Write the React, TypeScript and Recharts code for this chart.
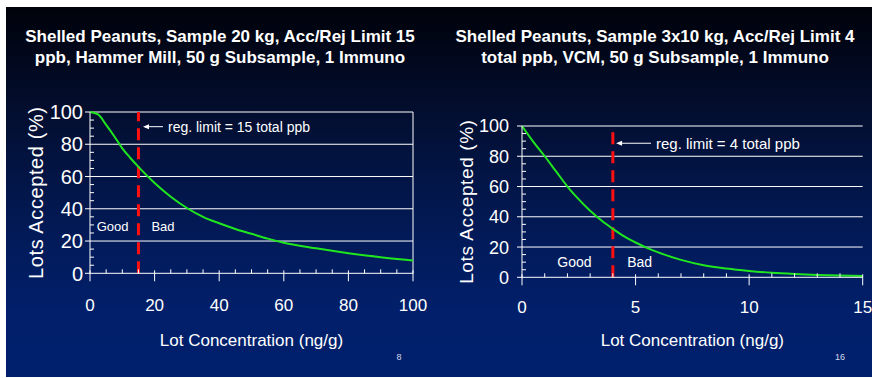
import React from 'react';
import { LineChart, Line, XAxis, YAxis, ReferenceLine, ReferenceDot } from 'recharts';

// Operating characteristic curve, 20 kg sample, 15 ppb limit
const leftConc = [0, 2.5, 5, 7.5, 10, 12.5, 15, 20, 25, 30, 35, 40, 45, 50, 55, 60, 70, 80, 90, 100];
const leftAccepted = [100, 98.5, 92, 85, 77.5, 71.5, 66, 56, 47.5, 40.5, 35, 31, 27.5, 24.5, 21.5, 19, 15.5, 12.5, 10, 8];
const leftXTicks = [0, 5, 10, 15, 20, 25, 30, 35, 40, 45, 50, 55, 60, 65, 70, 75, 80, 85, 90, 95, 100];
const leftLimit = 15;

// Operating characteristic curve, 3x10 kg sample, 4 ppb limit
const rightConc = [0, 0.5, 1, 1.5, 2, 2.5, 3, 3.5, 4, 4.5, 5, 5.5, 6, 7, 8, 9, 10, 11, 12, 13, 14, 15];
const rightAccepted = [100, 89.5, 80, 70, 60, 51.5, 44, 37.5, 32, 27, 23, 19.5, 16.5, 11.5, 8, 5.8, 4.2, 3, 2.2, 1.6, 1.2, 0.9];
const rightXTicks = [0, 1, 2, 3, 4, 5, 6, 7, 8, 9, 10, 11, 12, 13, 14, 15];
const rightLimit = 4;

const yTicks = [0, 5, 10, 15, 20, 25, 30, 35, 40, 45, 50, 55, 60, 65, 70, 75, 80, 85, 90, 95, 100];
const gridValues = [20, 40, 60, 80, 100];

const leftTitle = ['Shelled Peanuts, Sample 20 kg, Acc/Rej Limit 15', 'ppb, Hammer Mill, 50 g Subsample, 1 Immuno'];
const rightTitle = ['Shelled Peanuts, Sample 3x10 kg, Acc/Rej Limit 4', 'total ppb, VCM, 50 g Subsample, 1 Immuno'];

const FONT = "'Liberation Sans', Arial, Helvetica, sans-serif";
const WHITE = '#ffffff';
const GREEN = '#1fe61f';
const RED = '#ff1010';

const toRows = (xs: number[], ys: number[]) => xs.map((x, i) => ({ x, y: ys[i] }));

const YTick = (p: any) => {
  const { x, y, payload, labelGap, fontSize } = p;
  const v = payload.value;
  if (v % 20 === 0) {
    return (
      <g>
        <line x1={x - 5} x2={x} y1={y} y2={y} stroke={WHITE} strokeWidth={1} />
        <text x={x - labelGap} y={y} dy="0.36em" textAnchor="end" fill={WHITE} fontSize={fontSize}>
          {v}
        </text>
      </g>
    );
  }
  return <line x1={x} x2={x + 4} y1={y} y2={y} stroke={WHITE} strokeWidth={1} />;
};

const XTick = (p: any) => {
  const { x, y, payload, majorStep, labelOffset, fontSize } = p;
  const v = payload.value;
  if (v % majorStep === 0) {
    return (
      <g>
        <line x1={x} x2={x} y1={y - 3} y2={y + 8} stroke={WHITE} strokeWidth={1} />
        <text x={x} y={y + labelOffset} textAnchor="middle" fill={WHITE} fontSize={fontSize}>
          {v}
        </text>
      </g>
    );
  }
  return <line x1={x} x2={x} y1={y - 4} y2={y} stroke={WHITE} strokeWidth={1} />;
};

const arrowNote = (text: string, fontSize: number) => (p: any) => {
  const { x1, y1, x2 } = p;
  const left = Math.min(x1, x2);
  const right = Math.max(x1, x2);
  return (
    <g>
      <line x1={left + 2} x2={right} y1={y1} y2={y1} stroke={WHITE} strokeWidth={1} />
      <path d={`M${left},${y1} L${left + 6},${y1 - 2.5} L${left + 6},${y1 + 2.5} Z`} fill={WHITE} />
      <text x={right + 5} y={y1} dy="0.36em" fill={WHITE} fontSize={fontSize}>
        {text}
      </text>
    </g>
  );
};

type PanelProps = {
  rows: { x: number; y: number }[];
  xMax: number;
  xTicks: number[];
  majorStep: number;
  limit: number;
  note: string;
  noteFrom: number;
  noteTo: number;
  noteY: number;
  noteSize: number;
  good: [number, number];
  bad: [number, number];
  tagSize: number;
  left: number;
  yAxisWidth: number;
  top: number;
  right: number;
  xAxisHeight: number;
  yLabelSize: number;
  yLabelGap: number;
  xLabelOffset: number;
  titleSize: number;
  titleDx: number;
  xTitleDy: number;
  rightBorder: boolean;
};

const Panel = (c: PanelProps) => (
  <div style={{ position: 'absolute', left: c.left, top: 0 }}>
    <LineChart
      width={436}
      height={378}
      data={c.rows}
      margin={{ top: c.top, right: c.right, left: 0, bottom: 0 }}
      style={{ fontFamily: FONT }}
    >
      <XAxis
        dataKey="x"
        type="number"
        domain={[0, c.xMax]}
        ticks={c.xTicks}
        interval={0}
        tickSize={0}
        tickMargin={0}
        height={c.xAxisHeight}
        axisLine={{ stroke: WHITE, strokeWidth: 1 }}
        tick={(p: any) => <XTick {...p} majorStep={c.majorStep} labelOffset={c.xLabelOffset} fontSize={17} />}
        label={{ value: 'Lot Concentration (ng/g)', position: 'center', dy: c.xTitleDy, fill: WHITE, fontSize: 17 }}
      />
      <YAxis
        type="number"
        domain={[0, 100]}
        ticks={yTicks}
        interval={0}
        tickSize={0}
        tickMargin={0}
        width={c.yAxisWidth}
        axisLine={{ stroke: WHITE, strokeWidth: 1 }}
        tick={(p: any) => <YTick {...p} labelGap={c.yLabelGap} fontSize={c.yLabelSize} />}
        label={{
          value: 'Lots Accepted (%)',
          angle: -90,
          position: 'center',
          dx: c.titleDx,
          fill: WHITE,
          fontSize: c.titleSize,
          style: { letterSpacing: '0.6px' },
        }}
      />
      {gridValues.map((v) => (
        <ReferenceLine key={v} y={v} stroke={WHITE} strokeWidth={1} />
      ))}
      {c.rightBorder && <ReferenceLine x={c.xMax} stroke={WHITE} strokeWidth={1} />}
      <ReferenceLine x={c.limit} stroke={RED} strokeWidth={3} strokeDasharray="12 7" />
      <ReferenceLine
        segment={[
          { x: c.noteFrom, y: c.noteY },
          { x: c.noteTo, y: c.noteY },
        ]}
        shape={arrowNote(c.note, c.noteSize)}
      />
      <ReferenceDot
        x={c.good[0]}
        y={c.good[1]}
        r={0}
        fill="none"
        stroke="none"
        label={{ value: 'Good', position: 'center', fill: WHITE, fontSize: c.tagSize }}
      />
      <ReferenceDot
        x={c.bad[0]}
        y={c.bad[1]}
        r={0}
        fill="none"
        stroke="none"
        label={{ value: 'Bad', position: 'center', fill: WHITE, fontSize: c.tagSize }}
      />
      <Line
        dataKey="y"
        type="monotone"
        stroke={GREEN}
        strokeWidth={2}
        dot={false}
        activeDot={false}
        isAnimationActive={false}
      />
    </LineChart>
  </div>
);

const Title = ({ lines, cx }: { lines: string[]; cx: number }) => (
  <div
    style={{
      position: 'absolute',
      left: cx - 220,
      width: 440,
      top: 26,
      textAlign: 'center',
      color: WHITE,
      fontFamily: FONT,
      fontWeight: 'bold',
      fontSize: 17,
      lineHeight: '21px',
      whiteSpace: 'nowrap',
    }}
  >
    {lines[0]}
    <br />
    {lines[1]}
  </div>
);

const PageNo = ({ text, cx }: { text: string; cx: number }) => (
  <div
    style={{
      position: 'absolute',
      left: cx - 20,
      width: 40,
      top: 352,
      textAlign: 'center',
      color: '#d4daec',
      fontFamily: FONT,
      fontSize: 9,
      lineHeight: '11px',
    }}
  >
    {text}
  </div>
);

export default function App() {
  return (
    <div style={{ position: 'absolute', left: 0, top: 0, width: 872, height: 378, background: '#ffffff', overflow: 'hidden' }}>
      <div
        style={{
          position: 'absolute',
          left: 6,
          top: 7,
          width: 866,
          height: 370,
          background: 'linear-gradient(to bottom, #00020a 0%, #020a22 18%, #03123c 38%, #021a58 62%, #011f6a 82%, #001f6c 100%)',
        }}
      />
      <Title lines={leftTitle} cx={220} />
      <Title lines={rightTitle} cx={655} />
      <Panel
        rows={toRows(leftConc, leftAccepted)}
        xMax={100}
        xTicks={leftXTicks}
        majorStep={20}
        limit={leftLimit}
        note="reg. limit = 15 total ppb"
        noteFrom={16.4}
        noteTo={22.6}
        noteY={90.9}
        noteSize={14}
        good={[7, 28.8]}
        bad={[22.6, 28.8]}
        tagSize={13}
        left={0}
        yAxisWidth={90}
        top={112}
        right={23}
        xAxisHeight={104.7}
        yLabelSize={20}
        yLabelGap={7}
        xLabelOffset={38}
        titleSize={20}
        titleDx={-9}
        xTitleDy={14}
        rightBorder={true}
      />
      <Panel
        rows={toRows(rightConc, rightAccepted)}
        xMax={15}
        xTicks={rightXTicks}
        majorStep={5}
        limit={rightLimit}
        note="reg. limit = 4 total ppb"
        noteFrom={4.14}
        noteTo={5.68}
        noteY={88.6}
        noteSize={15}
        good={[2.31, 10.3]}
        bad={[5.18, 10.3]}
        tagSize={14}
        left={436}
        yAxisWidth={86}
        top={126}
        right={9.3}
        xAxisHeight={100.7}
        yLabelSize={18}
        yLabelGap={13}
        xLabelOffset={36}
        titleSize={19}
        titleDx={-13}
        xTitleDy={12.5}
        rightBorder={false}
      />
      <PageNo text="8" cx={399} />
      <PageNo text="16" cx={840} />
    </div>
  );
}
